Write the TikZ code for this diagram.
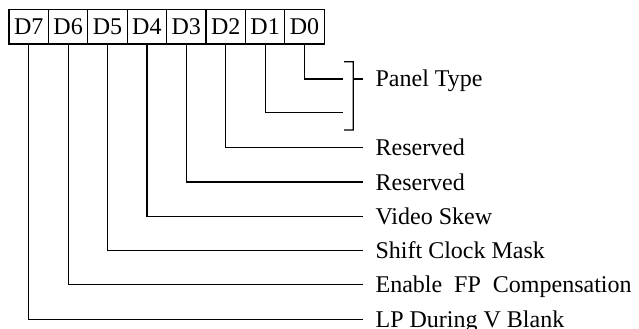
\documentclass[tikz,border=0pt]{standalone}
\usepackage{fontspec}
\setmainfont{Liberation Serif}
\begin{document}
\begin{tikzpicture}[x=0.5pt,y=-0.5pt,
  line width=0.6pt,
  cell/.style={draw, line width=0.6pt, minimum width=19.7pt, minimum height=17.25pt, inner sep=0pt, outer sep=0pt, font=\fontsize{12}{14}\selectfont},
  lbl/.style={anchor=base west, inner sep=0pt, font=\fontsize{12}{14}\selectfont}]
\useasboundingbox (0,0) rectangle (639,328);
% register cells
\foreach \b [count=\i from 0] in {7,6,5,4,3,2,1,0} {
  \node[cell] (d\b) at ({9+39.4*(\i+0.5)},26.75) {D\b};
}
% end points of the leader lines
\foreach \b/\y in {2/147.6,3/181.9,4/216.2,5/250.5,6/284.8,7/319.1} {
  \coordinate (e\b) at (362.7,\y);
}
\coordinate (e0) at (343.3,79);
\coordinate (e1) at (343.3,112.3);
% labels
\node[lbl] (l2) at (375,155.7) {Reserved};
\node[lbl] (l3) at (375,190.0) {Reserved};
\node[lbl] (l4) at (375,224.3) {Video Skew};
\node[lbl] (l5) at (375,258.6) {Shift Clock Mask};
\node[lbl] (l6) at (375,292.9) {Enable\ \ FP\ \ Compensation};
\node[lbl] (l7) at (375,327.2) {LP During V Blank};
\node[lbl] (lpt) at (375,86) {Panel Type};
% leaders
\foreach \b in {0,1,2,3,4,5,6,7} {
  \draw (d\b.south) |- (e\b);
}
% bracket for panel type
\coordinate (bt) at (344,61.7);
\coordinate (bb) at (344,130);
\coordinate (bm) at (363.3,79);
\draw (bt) -- ++(9.3,0) -- ++(0,68.3) -- (bb);
\draw (353.3,79) -- (bm);
\end{tikzpicture}
\end{document}
